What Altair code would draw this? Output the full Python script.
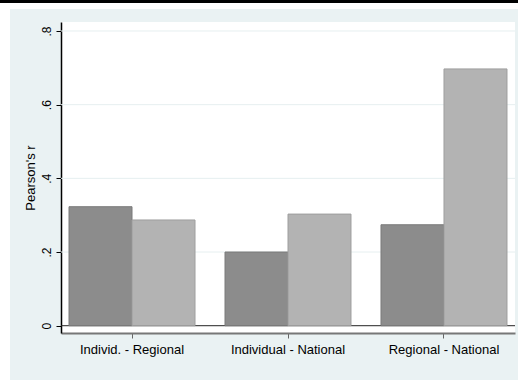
import altair as alt
import pandas as pd

# Correlations between levels of identification
pairs = ["Individ. - Regional", "Individual - National", "Regional - National"]
series = ["A", "B"]
values_a = [0.323, 0.200, 0.274]
values_b = [0.287, 0.303, 0.697]
y_ticks = [0, 0.2, 0.4, 0.6, 0.8]

rows = []
for p, a, b in zip(pairs, values_a, values_b):
    rows.append({"pair": p, "series": series[0], "r": a})
    rows.append({"pair": p, "series": series[1], "r": b})
df = pd.DataFrame(rows)

W, H = 454, 311
FONT = "Liberation Sans"

# page decoration: white margin and dark top strip around the tinted graph region
deco = pd.DataFrame({"k": [0]})
white_top = alt.Chart(deco).mark_rect(color="white").encode(
    x=alt.value(-61), x2=alt.value(W + 3), y=alt.value(-22), y2=alt.value(-13)
)
white_left = alt.Chart(deco).mark_rect(color="white").encode(
    x=alt.value(-61), x2=alt.value(-51), y=alt.value(-22), y2=alt.value(H + 47)
)
black_top = alt.Chart(deco).mark_rect(color="black").encode(
    x=alt.value(-61), x2=alt.value(W + 3), y=alt.value(-22), y2=alt.value(-19)
)

y_scale = alt.Scale(domain=[-0.0198, 0.8244], nice=False, zero=False)

zero_line = alt.Chart(deco).mark_rule(color="#222222", strokeWidth=1).encode(
    y=alt.datum(0, scale=y_scale),
    x=alt.value(0), x2=alt.value(W),
)

bars = alt.Chart(df).mark_bar(strokeWidth=1).encode(
    x=alt.X(
        "pair:N",
        sort=pairs,
        scale=alt.Scale(paddingInner=0.1923, paddingOuter=0.0513),
        axis=alt.Axis(
            title=None,
            labelAngle=0,
            labelFont=FONT,
            labelFontSize=13,
            labelColor="black",
            labelPadding=5,
            tickSize=5,
            tickColor="#666666",
            domainColor="#777777",
            domainWidth=2,
            grid=False,
        ),
    ),
    xOffset=alt.XOffset("series:N", scale=alt.Scale(paddingInner=0, paddingOuter=0)),
    y=alt.Y(
        "r:Q",
        scale=y_scale,
        axis=alt.Axis(
            title="Pearson's r",
            titleFont=FONT,
            titleFontSize=13,
            titleFontWeight="normal",
            titleColor="black",
            titlePadding=3,
            values=y_ticks,
            labelExpr="datum.value == 0 ? '0' : replace(format(datum.value, '.1f'), '0.', '.')",
            labelAngle=270,
            labelAlign="center",
            labelBaseline="bottom",
            labelFont=FONT,
            labelFontSize=12,
            labelColor="black",
            labelPadding=3,
            tickSize=5,
            tickColor="black",
            domainColor="black",
            domainWidth=1.5,
            grid=False,
        ),
    ),
    y2=alt.datum(0),
    color=alt.Color(
        "series:N",
        scale=alt.Scale(domain=series, range=["#8c8c8c", "#b3b3b3"]),
        legend=None,
    ),
    stroke=alt.Stroke(
        "series:N",
        scale=alt.Scale(domain=series, range=["#7a7a7a", "#9e9e9e"]),
        legend=None,
    ),
)

grid = alt.Chart(pd.DataFrame({"v": y_ticks[1:]})).mark_rule(
    color="#e6eff0", strokeWidth=1
).encode(y=alt.Y("v:Q", scale=y_scale), x=alt.value(0), x2=alt.value(W))

chart = (
    alt.layer(white_top, white_left, black_top, grid, zero_line, bars)
    .resolve_scale(y="shared")
    .properties(
        width=W,
        height=H,
        background="#eaf2f3",
        padding={"left": 61, "top": 22, "right": 3, "bottom": 47},
        autosize=alt.AutoSizeParams(type="none"),
    )
    .configure_view(fill="white", stroke=None)
)

chart.save("out.html", embed_options={"renderer": "svg", "actions": False})
